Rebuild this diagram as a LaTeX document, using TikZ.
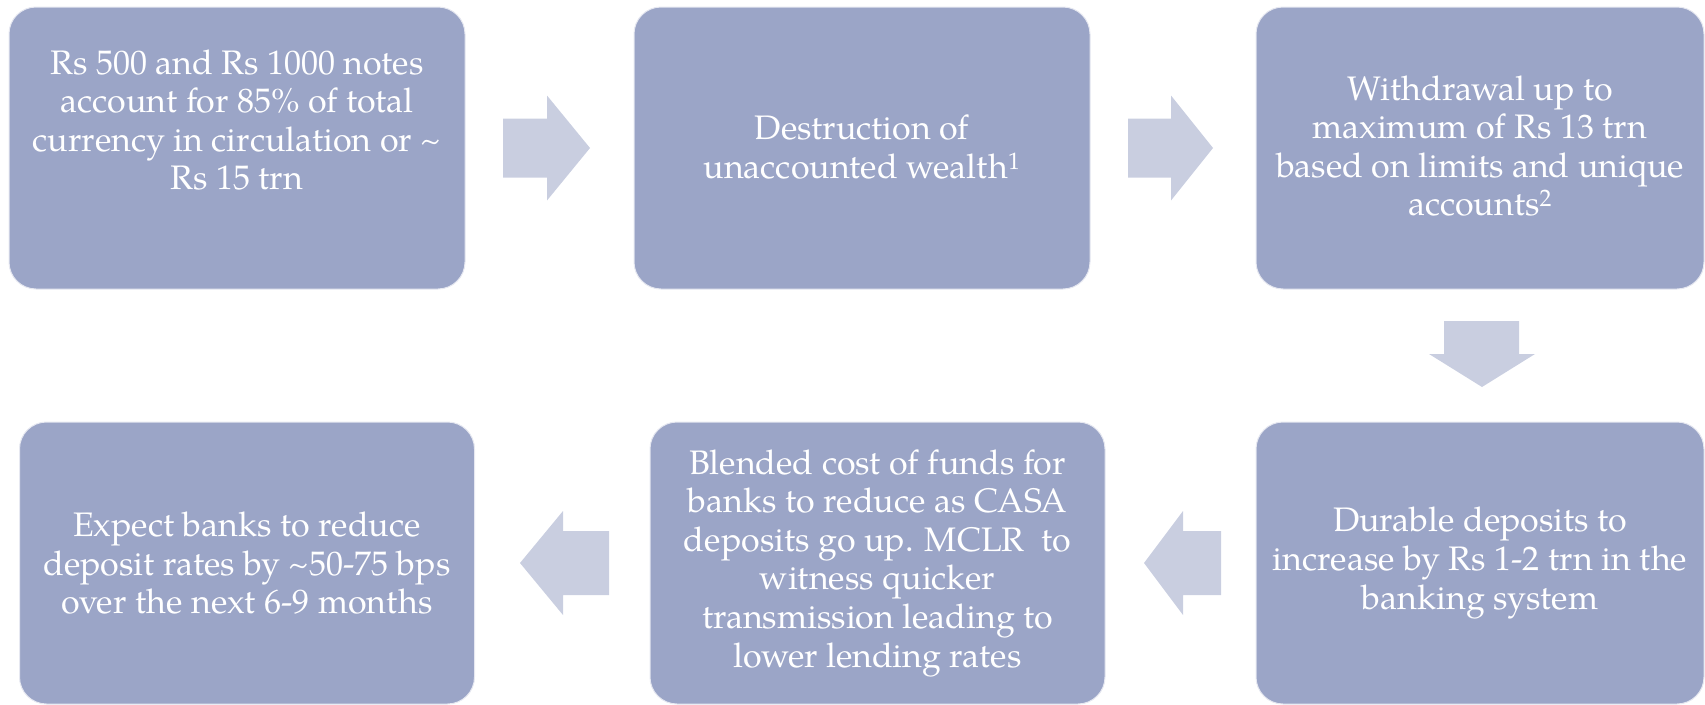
\documentclass[tikz,border=0pt]{standalone}
\usepackage{fontspec}
\setmainfont{TeX Gyre Pagella}
\definecolor{boxfill}{RGB}{155,165,199}
\definecolor{arrowfill}{RGB}{201,206,224}
\begin{document}
\begin{tikzpicture}[x=1pt,y=-1pt,
  box/.style={fill=boxfill, draw=white!75!boxfill, line width=1pt, rounded corners=27pt,
    minimum width=456pt, minimum height=282pt, inner sep=0pt},
  txt/.style={text=white, align=center, inner sep=0pt, font=\fontsize{34}{38.6}\selectfont},
  blockarrow/.style={fill=arrowfill, draw=none}]
\useasboundingbox (0,0) rectangle (1705,704);
% boxes
\node[box] (b1) at (237,148) {};
\node[box] (b2) at (862,148) {};
\node[box, minimum width=448pt] (b3) at (1480,148) {};
\node[box, minimum width=455pt] (b4) at (247,563) {};
\node[box, minimum width=455pt] (b5) at (877.5,563) {};
\node[box, minimum width=448pt] (b6) at (1480,563) {};
% texts
\node[txt] (t1) at (237,120) {Rs 500 and Rs 1000 notes\\account for 85\% of total\\currency in circulation or \textasciitilde\\Rs 15 trn};
\node[txt] (t2) at (862,147) {Destruction of\\unaccounted wealth\textsuperscript{1}};
\node[txt] (t3) at (1480,146) {Withdrawal up to\\maximum of Rs 13 trn\\based on limits and unique\\accounts\textsuperscript{2}};
\node[txt] (t4) at (247,563) {Expect banks to reduce\\deposit rates by \textasciitilde 50-75 bps\\over the next 6-9 months};
\node[txt] (t5) at (877.5,563) {Blended cost of funds for\\banks to reduce as CASA\\deposits go up. MCLR\ \ to\\witness quicker\\transmission leading to\\lower lending rates};
\node[txt] (t6) at (1480,563) {Durable deposits to\\increase by Rs 1-2 trn in the\\banking system};
% block arrows
\fill[blockarrow] (503,118.5) -- (547,118.5) -- (547,95.5) -- (590,148) -- (547,200.5) -- (547,177.5) -- (503,177.5) -- cycle;
\fill[blockarrow] (1128,118.5) -- (1171,118.5) -- (1171,95.5) -- (1213,148) -- (1171,200.5) -- (1171,177.5) -- (1128,177.5) -- cycle;
\fill[blockarrow] (1444,321) -- (1519,321) -- (1519,354) -- (1535,354) -- (1482,387) -- (1429,354) -- (1444,354) -- cycle;
\fill[blockarrow] (1221,531) -- (1183,531) -- (1183,511) -- (1144,563) -- (1183,615) -- (1183,595) -- (1221,595) -- cycle;
\fill[blockarrow] (609,531) -- (563,531) -- (563,511) -- (520,563) -- (563,615) -- (563,595) -- (609,595) -- cycle;
\end{tikzpicture}
\end{document}
